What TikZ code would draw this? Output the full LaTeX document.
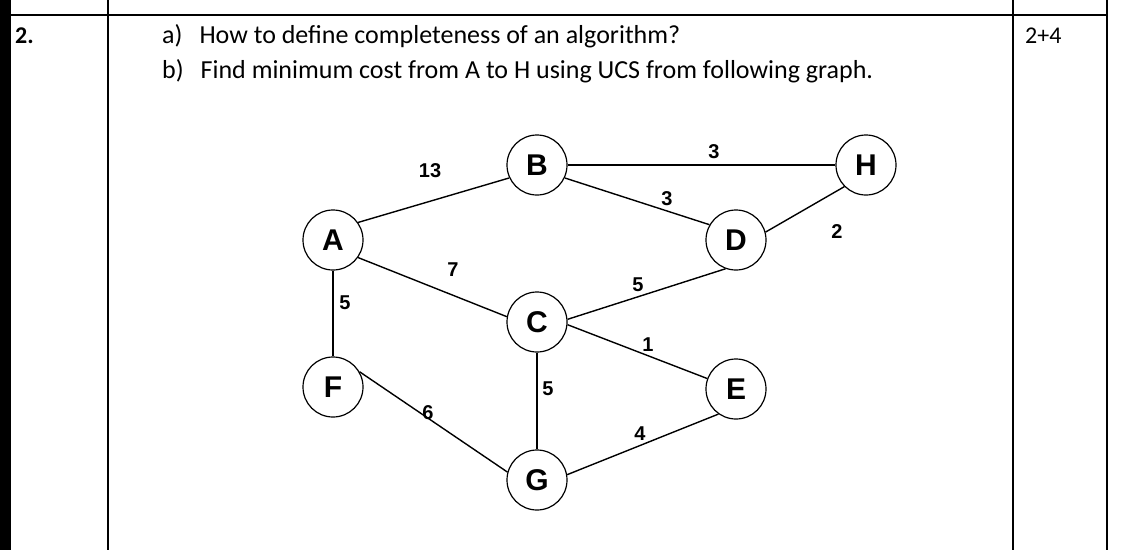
\documentclass[tikz,border=0pt]{standalone}
\usepackage{fontspec}
\setmainfont{Carlito}
\newfontfamily\arialf{Liberation Sans}
\begin{document}
\begin{tikzpicture}[x=1pt,y=-1pt,
 vtx/.style={circle,draw,line width=1.2pt,minimum size=60pt,inner sep=0pt,font=\arialf\bfseries\fontsize{30}{30}\selectfont},
 edge/.style={line width=1.4pt},
 wt/.style={font=\arialf\bfseries\fontsize{20}{20}\selectfont,inner sep=1pt},
 txt/.style={anchor=base west,inner sep=0pt,font=\fontsize{26}{26}\selectfont}]
\useasboundingbox (0,0) rectangle (1136,550);
\fill (0,0) rectangle (11,550);
\draw[line width=1.3pt] (11,15) -- (1108,15);
\draw[line width=1.3pt] (108,0) -- (108,550);
\draw[line width=1.3pt] (1013,0) -- (1013,550);
\draw[line width=1.3pt] (1107,0) -- (1107,550);
\node[txt,font=\bfseries\fontsize{24}{24}\selectfont] (num) at (15,43) {2.};
\node[txt] (qa) at (162,43) {a)\hspace{17pt}How to define completeness of an algorithm?};
\node[txt] (qb) at (162,78) {b)\hspace{17pt}Find minimum cost from A to H using UCS from following graph.};
\node[txt,font=\fontsize{24}{24}\selectfont] (mk) at (1025,43) {2+4};
\node[vtx] (A) at (333,240) {A};
\node[vtx] (B) at (537,165) {B};
\node[vtx] (H) at (866,165) {H};
\node[vtx] (D) at (736,240) {D};
\node[vtx] (C) at (537,322) {C};
\node[vtx] (E) at (736,389) {E};
\node[vtx] (F) at (333,387) {F};
\node[vtx] (G) at (537,480) {G};
\draw[edge] (A.35) -- (B.205);
\draw[edge] (B.0) -- (H.180);
\draw[edge] (B.-25) -- (D.150);
\draw[edge] (D.15) -- (H.225);
\draw[edge] (A.-35) -- (C.170);
\draw[edge] (C.5) -- (D.250);
\draw[edge] (C.-5) -- (E.160);
\draw[edge] (A) -- (F);
\draw[edge] (C) -- (G);
\draw[edge] (F.30) -- (G.165);
\draw[edge] (G.10) -- (E.235);
\node[wt] (w1) at (430,171) {13};
\node[wt] (w2) at (714,152) {3};
\node[wt] (w3) at (667,199) {3};
\node[wt] (w4) at (837,232) {2};
\node[wt] (w5) at (453,270) {7};
\node[wt] (w6) at (638,285) {5};
\node[wt] (w7) at (648,345) {1};
\node[wt] (w8) at (345,303) {5};
\node[wt] (w9) at (548,389) {5};
\node[wt] (w10) at (428,413) {6};
\node[wt] (w11) at (640,434) {4};
\end{tikzpicture}
\end{document}
